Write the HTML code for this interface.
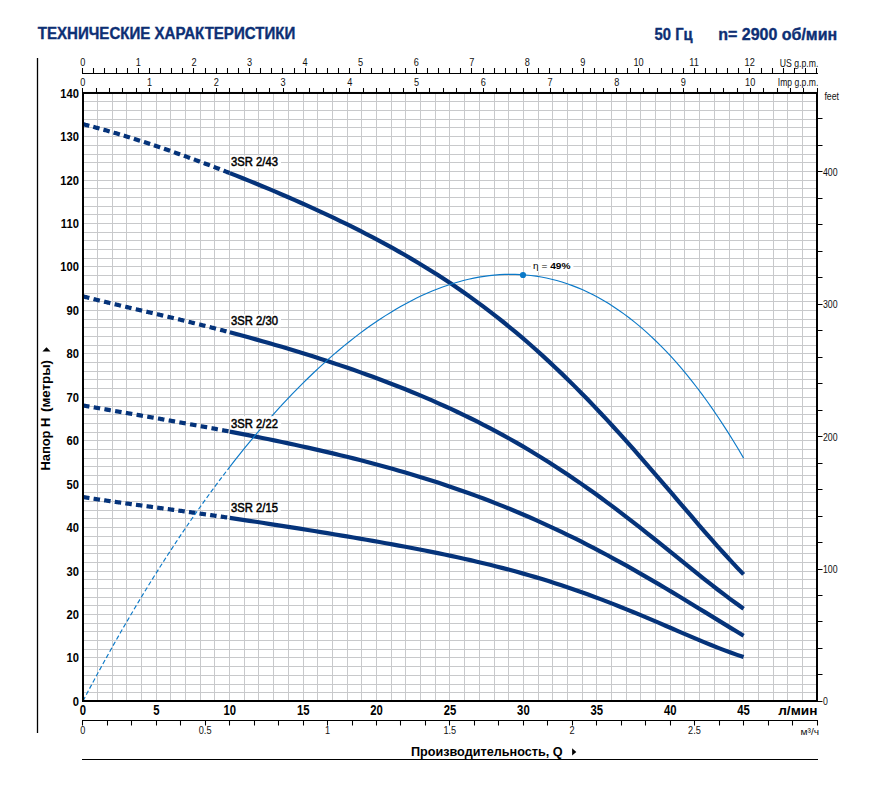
<!DOCTYPE html><html><head><meta charset="utf-8"><style>html,body{margin:0;padding:0;background:#fff;}svg{display:block;}text{font-family:"Liberation Sans",sans-serif;}</style></head><body>
<svg width="874" height="792" viewBox="0 0 874 792">
<rect width="874" height="792" fill="#fff"/>
<text x="37.8" y="38.5" font-size="15.6" font-weight="bold" fill="#0d2f74" stroke="#0d2f74" stroke-width="0.35" textLength="257.5" lengthAdjust="spacingAndGlyphs">ТЕХНИЧЕСКИЕ ХАРАКТЕРИСТИКИ</text>
<text x="654.6" y="39.6" font-size="15.6" font-weight="bold" fill="#0d2f74" stroke="#0d2f74" stroke-width="0.35" textLength="38" lengthAdjust="spacingAndGlyphs">50 Гц</text>
<text x="718.2" y="39.6" font-size="15.6" font-weight="bold" fill="#0d2f74" stroke="#0d2f74" stroke-width="0.35" textLength="119" lengthAdjust="spacingAndGlyphs">n= 2900 об/мин</text>
<line x1="37.5" y1="58" x2="37.5" y2="733" stroke="#000" stroke-width="1.3"/>
<path d="M97.5 92.98V701.0M112.5 92.98V701.0M126.5 92.98V701.0M141.5 92.98V701.0M156.5 92.98V701.0M170.5 92.98V701.0M185.5 92.98V701.0M200.5 92.98V701.0M214.5 92.98V701.0M229.5 92.98V701.0M244.5 92.98V701.0M258.5 92.98V701.0M273.5 92.98V701.0M288.5 92.98V701.0M303.5 92.98V701.0M317.5 92.98V701.0M332.5 92.98V701.0M347.5 92.98V701.0M361.5 92.98V701.0M376.5 92.98V701.0M391.5 92.98V701.0M405.5 92.98V701.0M420.5 92.98V701.0M435.5 92.98V701.0M449.5 92.98V701.0M464.5 92.98V701.0M479.5 92.98V701.0M494.5 92.98V701.0M508.5 92.98V701.0M523.5 92.98V701.0M538.5 92.98V701.0M552.5 92.98V701.0M567.5 92.98V701.0M582.5 92.98V701.0M596.5 92.98V701.0M611.5 92.98V701.0M626.5 92.98V701.0M640.5 92.98V701.0M655.5 92.98V701.0M670.5 92.98V701.0M684.5 92.98V701.0M699.5 92.98V701.0M714.5 92.98V701.0M729.5 92.98V701.0M743.5 92.98V701.0M758.5 92.98V701.0M773.5 92.98V701.0M787.5 92.98V701.0M802.5 92.98V701.0M83.0 692.5H817.00M83.0 684.5H817.00M83.0 675.5H817.00M83.0 666.5H817.00M83.0 657.5H817.00M83.0 649.5H817.00M83.0 640.5H817.00M83.0 631.5H817.00M83.0 623.5H817.00M83.0 614.5H817.00M83.0 605.5H817.00M83.0 597.5H817.00M83.0 588.5H817.00M83.0 579.5H817.00M83.0 571.5H817.00M83.0 562.5H817.00M83.0 553.5H817.00M83.0 545.5H817.00M83.0 536.5H817.00M83.0 527.5H817.00M83.0 518.5H817.00M83.0 510.5H817.00M83.0 501.5H817.00M83.0 492.5H817.00M83.0 484.5H817.00M83.0 475.5H817.00M83.0 466.5H817.00M83.0 458.5H817.00M83.0 449.5H817.00M83.0 440.5H817.00M83.0 432.5H817.00M83.0 423.5H817.00M83.0 414.5H817.00M83.0 406.5H817.00M83.0 397.5H817.00M83.0 388.5H817.00M83.0 379.5H817.00M83.0 371.5H817.00M83.0 362.5H817.00M83.0 353.5H817.00M83.0 345.5H817.00M83.0 336.5H817.00M83.0 327.5H817.00M83.0 319.5H817.00M83.0 310.5H817.00M83.0 301.5H817.00M83.0 293.5H817.00M83.0 284.5H817.00M83.0 275.5H817.00M83.0 266.5H817.00M83.0 258.5H817.00M83.0 249.5H817.00M83.0 240.5H817.00M83.0 232.5H817.00M83.0 223.5H817.00M83.0 214.5H817.00M83.0 206.5H817.00M83.0 197.5H817.00M83.0 188.5H817.00M83.0 180.5H817.00M83.0 171.5H817.00M83.0 162.5H817.00M83.0 154.5H817.00M83.0 145.5H817.00M83.0 136.5H817.00M83.0 127.5H817.00M83.0 119.5H817.00M83.0 110.5H817.00M83.0 101.5H817.00" stroke="#c8c9cb" stroke-width="1" fill="none"/>
<path d="M83.00 124.18 L83.74 124.37 L84.48 124.56 L85.21 124.74 L85.95 124.93 L86.69 125.12 L87.43 125.31 L88.16 125.51 L88.90 125.70 L89.64 125.89 L90.38 126.09 L91.11 126.28 L91.85 126.48 L92.59 126.67 L93.33 126.87 L94.07 127.07 L94.80 127.27 L95.54 127.47 L96.28 127.67 L97.02 127.87 L97.75 128.07 L98.49 128.27 L99.23 128.47 L99.97 128.68 L100.70 128.88 L101.44 129.09 L102.18 129.29 L102.92 129.50 L103.66 129.70 L104.39 129.91 L105.13 130.12 L105.87 130.33 L106.61 130.54 L107.34 130.75 L108.08 130.96 L108.82 131.17 L109.56 131.39 L110.29 131.60 L111.03 131.81 L111.77 132.03 L112.51 132.24 L113.25 132.46 L113.98 132.67 L114.72 132.89 L115.46 133.11 L116.20 133.33 L116.93 133.55 L117.67 133.77 L118.41 133.99 L119.15 134.21 L119.88 134.43 L120.62 134.65 L121.36 134.87 L122.10 135.10 L122.84 135.32 L123.57 135.55 L124.31 135.77 L125.05 136.00 L125.79 136.23 L126.52 136.45 L127.26 136.68 L128.00 136.91 L128.74 137.14 L129.47 137.37 L130.21 137.60 L130.95 137.83 L131.69 138.06 L132.43 138.29 L133.16 138.52 L133.90 138.76 L134.64 138.99 L135.38 139.22 L136.11 139.46 L136.85 139.69 L137.59 139.93 L138.33 140.17 L139.06 140.40 L139.80 140.64 L140.54 140.88 L141.28 141.12 L142.02 141.36 L142.75 141.60 L143.49 141.84 L144.23 142.08 L144.97 142.32 L145.70 142.56 L146.44 142.80 L147.18 143.05 L147.92 143.29 L148.65 143.53 L149.39 143.78 L150.13 144.02 L150.87 144.27 L151.61 144.51 L152.34 144.76 L153.08 145.01 L153.82 145.25 L154.56 145.50 L155.29 145.75 L156.03 146.00 L156.77 146.25 L157.51 146.50 L158.24 146.75 L158.98 147.00 L159.72 147.25 L160.46 147.50 L161.19 147.76 L161.93 148.01 L162.67 148.26 L163.41 148.52 L164.15 148.77 L164.88 149.03 L165.62 149.28 L166.36 149.54 L167.10 149.79 L167.83 150.05 L168.57 150.31 L169.31 150.56 L170.05 150.82 L170.78 151.08 L171.52 151.34 L172.26 151.60 L173.00 151.86 L173.74 152.12 L174.47 152.38 L175.21 152.64 L175.95 152.90 L176.69 153.16 L177.42 153.43 L178.16 153.69 L178.90 153.95 L179.64 154.22 L180.37 154.48 L181.11 154.75 L181.85 155.01 L182.59 155.28 L183.33 155.54 L184.06 155.81 L184.80 156.07 L185.54 156.34 L186.28 156.61 L187.01 156.88 L187.75 157.15 L188.49 157.41 L189.23 157.68 L189.96 157.95 L190.70 158.22 L191.44 158.49 L192.18 158.76 L192.92 159.03 L193.65 159.31 L194.39 159.58 L195.13 159.85 L195.87 160.12 L196.60 160.40 L197.34 160.67 L198.08 160.94 L198.82 161.22 L199.55 161.49 L200.29 161.77 L201.03 162.04 L201.77 162.32 L202.51 162.60 L203.24 162.87 L203.98 163.15 L204.72 163.43 L205.46 163.70 L206.19 163.98 L206.93 164.26 L207.67 164.54 L208.41 164.82 L209.14 165.10 L209.88 165.38 L210.62 165.66 L211.36 165.94 L212.10 166.22 L212.83 166.50 L213.57 166.78 L214.31 167.07 L215.05 167.35 L215.78 167.63 L216.52 167.92 L217.26 168.20 L218.00 168.48 L218.73 168.77 L219.47 169.05 L220.21 169.34 L220.95 169.62 L221.69 169.91 L222.42 170.20 L223.16 170.48 L223.90 170.77 L224.64 171.06 L225.37 171.34 L226.11 171.63 L226.85 171.92 L227.59 172.21 L228.32 172.50 L229.06 172.79 L229.80 173.08" stroke="#05337a" stroke-width="4.2" fill="none" stroke-dasharray="6.5 4.08"/>
<path d="M229.80 173.08 L236.30 175.65 L242.81 178.25 L249.31 180.88 L255.82 183.53 L262.32 186.22 L268.82 188.93 L275.33 191.67 L281.83 194.45 L288.33 197.26 L294.84 200.10 L301.34 202.97 L307.85 205.88 L314.35 208.83 L320.85 211.82 L327.36 214.85 L333.86 217.92 L340.36 221.04 L346.87 224.21 L353.37 227.43 L359.88 230.70 L366.38 234.02 L372.88 237.41 L379.39 240.85 L385.89 244.36 L392.39 247.94 L398.90 251.59 L405.40 255.30 L411.91 259.10 L418.41 262.97 L424.91 266.92 L431.42 270.96 L437.92 275.09 L444.43 279.31 L450.93 283.62 L457.43 288.02 L463.94 292.53 L470.44 297.13 L476.94 301.85 L483.45 306.66 L489.95 311.59 L496.46 316.63 L502.96 321.77 L509.46 327.04 L515.97 332.42 L522.47 337.91 L528.97 343.53 L535.48 349.26 L541.98 355.11 L548.49 361.08 L554.99 367.17 L561.49 373.37 L568.00 379.69 L574.50 386.13 L581.01 392.68 L587.51 399.34 L594.01 406.10 L600.52 412.97 L607.02 419.94 L613.52 427.00 L620.03 434.15 L626.53 441.39 L633.04 448.70 L639.54 456.08 L646.04 463.53 L652.55 471.02 L659.05 478.56 L665.55 486.13 L672.06 493.72 L678.56 501.32 L685.07 508.91 L691.57 516.49 L698.07 524.03 L704.58 531.52 L711.08 538.95 L717.58 546.29 L724.09 553.52 L730.59 560.63 L737.10 567.60 L743.60 574.39" stroke="#05337a" stroke-width="4.2" fill="none"/>
<path d="M83.00 296.38 L83.74 296.57 L84.48 296.76 L85.21 296.95 L85.95 297.13 L86.69 297.32 L87.43 297.51 L88.16 297.70 L88.90 297.88 L89.64 298.07 L90.38 298.25 L91.11 298.44 L91.85 298.62 L92.59 298.81 L93.33 298.99 L94.07 299.18 L94.80 299.36 L95.54 299.54 L96.28 299.72 L97.02 299.91 L97.75 300.09 L98.49 300.27 L99.23 300.45 L99.97 300.63 L100.70 300.81 L101.44 300.99 L102.18 301.17 L102.92 301.35 L103.66 301.53 L104.39 301.71 L105.13 301.89 L105.87 302.07 L106.61 302.25 L107.34 302.42 L108.08 302.60 L108.82 302.78 L109.56 302.96 L110.29 303.13 L111.03 303.31 L111.77 303.49 L112.51 303.66 L113.25 303.84 L113.98 304.02 L114.72 304.19 L115.46 304.37 L116.20 304.54 L116.93 304.72 L117.67 304.89 L118.41 305.07 L119.15 305.24 L119.88 305.42 L120.62 305.59 L121.36 305.77 L122.10 305.94 L122.84 306.12 L123.57 306.29 L124.31 306.47 L125.05 306.64 L125.79 306.81 L126.52 306.99 L127.26 307.16 L128.00 307.33 L128.74 307.51 L129.47 307.68 L130.21 307.86 L130.95 308.03 L131.69 308.20 L132.43 308.38 L133.16 308.55 L133.90 308.72 L134.64 308.90 L135.38 309.07 L136.11 309.24 L136.85 309.42 L137.59 309.59 L138.33 309.76 L139.06 309.94 L139.80 310.11 L140.54 310.28 L141.28 310.46 L142.02 310.63 L142.75 310.80 L143.49 310.98 L144.23 311.15 L144.97 311.32 L145.70 311.50 L146.44 311.67 L147.18 311.84 L147.92 312.02 L148.65 312.19 L149.39 312.37 L150.13 312.54 L150.87 312.71 L151.61 312.89 L152.34 313.06 L153.08 313.23 L153.82 313.41 L154.56 313.58 L155.29 313.76 L156.03 313.93 L156.77 314.11 L157.51 314.28 L158.24 314.46 L158.98 314.63 L159.72 314.81 L160.46 314.98 L161.19 315.16 L161.93 315.33 L162.67 315.51 L163.41 315.68 L164.15 315.86 L164.88 316.03 L165.62 316.21 L166.36 316.39 L167.10 316.56 L167.83 316.74 L168.57 316.92 L169.31 317.09 L170.05 317.27 L170.78 317.45 L171.52 317.62 L172.26 317.80 L173.00 317.98 L173.74 318.16 L174.47 318.33 L175.21 318.51 L175.95 318.69 L176.69 318.87 L177.42 319.05 L178.16 319.22 L178.90 319.40 L179.64 319.58 L180.37 319.76 L181.11 319.94 L181.85 320.12 L182.59 320.30 L183.33 320.48 L184.06 320.66 L184.80 320.84 L185.54 321.02 L186.28 321.20 L187.01 321.38 L187.75 321.56 L188.49 321.75 L189.23 321.93 L189.96 322.11 L190.70 322.29 L191.44 322.47 L192.18 322.66 L192.92 322.84 L193.65 323.02 L194.39 323.21 L195.13 323.39 L195.87 323.57 L196.60 323.76 L197.34 323.94 L198.08 324.12 L198.82 324.31 L199.55 324.49 L200.29 324.68 L201.03 324.86 L201.77 325.05 L202.51 325.23 L203.24 325.42 L203.98 325.61 L204.72 325.79 L205.46 325.98 L206.19 326.17 L206.93 326.35 L207.67 326.54 L208.41 326.73 L209.14 326.92 L209.88 327.11 L210.62 327.29 L211.36 327.48 L212.10 327.67 L212.83 327.86 L213.57 328.05 L214.31 328.24 L215.05 328.43 L215.78 328.62 L216.52 328.81 L217.26 329.00 L218.00 329.19 L218.73 329.38 L219.47 329.58 L220.21 329.77 L220.95 329.96 L221.69 330.15 L222.42 330.34 L223.16 330.54 L223.90 330.73 L224.64 330.92 L225.37 331.12 L226.11 331.31 L226.85 331.51 L227.59 331.70 L228.32 331.90 L229.06 332.09 L229.80 332.29" stroke="#05337a" stroke-width="4.2" fill="none" stroke-dasharray="6.5 4.36"/>
<path d="M229.80 332.29 L236.30 334.02 L242.81 335.78 L249.31 337.57 L255.82 339.37 L262.32 341.21 L268.82 343.07 L275.33 344.95 L281.83 346.86 L288.33 348.80 L294.84 350.76 L301.34 352.76 L307.85 354.78 L314.35 356.83 L320.85 358.92 L327.36 361.03 L333.86 363.18 L340.36 365.37 L346.87 367.58 L353.37 369.84 L359.88 372.13 L366.38 374.46 L372.88 376.82 L379.39 379.23 L385.89 381.69 L392.39 384.18 L398.90 386.73 L405.40 389.32 L411.91 391.96 L418.41 394.65 L424.91 397.39 L431.42 400.19 L437.92 403.05 L444.43 405.96 L450.93 408.94 L457.43 411.98 L463.94 415.08 L470.44 418.25 L476.94 421.48 L483.45 424.79 L489.95 428.17 L496.46 431.62 L502.96 435.14 L509.46 438.75 L515.97 442.42 L522.47 446.18 L528.97 450.02 L535.48 453.94 L541.98 457.94 L548.49 462.02 L554.99 466.18 L561.49 470.42 L568.00 474.74 L574.50 479.15 L581.01 483.63 L587.51 488.19 L594.01 492.83 L600.52 497.55 L607.02 502.33 L613.52 507.18 L620.03 512.10 L626.53 517.08 L633.04 522.12 L639.54 527.20 L646.04 532.34 L652.55 537.51 L659.05 542.72 L665.55 547.94 L672.06 553.19 L678.56 558.44 L685.07 563.69 L691.57 568.93 L698.07 574.13 L704.58 579.31 L711.08 584.42 L717.58 589.48 L724.09 594.45 L730.59 599.32 L737.10 604.07 L743.60 608.69" stroke="#05337a" stroke-width="4.2" fill="none"/>
<path d="M83.00 405.44 L83.74 405.57 L84.48 405.70 L85.21 405.83 L85.95 405.96 L86.69 406.08 L87.43 406.21 L88.16 406.34 L88.90 406.47 L89.64 406.60 L90.38 406.73 L91.11 406.86 L91.85 406.99 L92.59 407.12 L93.33 407.25 L94.07 407.37 L94.80 407.50 L95.54 407.63 L96.28 407.76 L97.02 407.89 L97.75 408.02 L98.49 408.15 L99.23 408.27 L99.97 408.40 L100.70 408.53 L101.44 408.66 L102.18 408.79 L102.92 408.92 L103.66 409.04 L104.39 409.17 L105.13 409.30 L105.87 409.43 L106.61 409.56 L107.34 409.68 L108.08 409.81 L108.82 409.94 L109.56 410.07 L110.29 410.20 L111.03 410.32 L111.77 410.45 L112.51 410.58 L113.25 410.71 L113.98 410.84 L114.72 410.96 L115.46 411.09 L116.20 411.22 L116.93 411.35 L117.67 411.47 L118.41 411.60 L119.15 411.73 L119.88 411.86 L120.62 411.99 L121.36 412.11 L122.10 412.24 L122.84 412.37 L123.57 412.50 L124.31 412.63 L125.05 412.75 L125.79 412.88 L126.52 413.01 L127.26 413.14 L128.00 413.27 L128.74 413.39 L129.47 413.52 L130.21 413.65 L130.95 413.78 L131.69 413.90 L132.43 414.03 L133.16 414.16 L133.90 414.29 L134.64 414.42 L135.38 414.55 L136.11 414.67 L136.85 414.80 L137.59 414.93 L138.33 415.06 L139.06 415.19 L139.80 415.31 L140.54 415.44 L141.28 415.57 L142.02 415.70 L142.75 415.83 L143.49 415.96 L144.23 416.09 L144.97 416.21 L145.70 416.34 L146.44 416.47 L147.18 416.60 L147.92 416.73 L148.65 416.86 L149.39 416.99 L150.13 417.12 L150.87 417.25 L151.61 417.37 L152.34 417.50 L153.08 417.63 L153.82 417.76 L154.56 417.89 L155.29 418.02 L156.03 418.15 L156.77 418.28 L157.51 418.41 L158.24 418.54 L158.98 418.67 L159.72 418.80 L160.46 418.93 L161.19 419.06 L161.93 419.19 L162.67 419.32 L163.41 419.45 L164.15 419.58 L164.88 419.71 L165.62 419.84 L166.36 419.97 L167.10 420.10 L167.83 420.23 L168.57 420.36 L169.31 420.49 L170.05 420.62 L170.78 420.75 L171.52 420.88 L172.26 421.01 L173.00 421.15 L173.74 421.28 L174.47 421.41 L175.21 421.54 L175.95 421.67 L176.69 421.80 L177.42 421.93 L178.16 422.07 L178.90 422.20 L179.64 422.33 L180.37 422.46 L181.11 422.59 L181.85 422.73 L182.59 422.86 L183.33 422.99 L184.06 423.12 L184.80 423.26 L185.54 423.39 L186.28 423.52 L187.01 423.65 L187.75 423.79 L188.49 423.92 L189.23 424.05 L189.96 424.19 L190.70 424.32 L191.44 424.45 L192.18 424.59 L192.92 424.72 L193.65 424.86 L194.39 424.99 L195.13 425.12 L195.87 425.26 L196.60 425.39 L197.34 425.53 L198.08 425.66 L198.82 425.80 L199.55 425.93 L200.29 426.07 L201.03 426.20 L201.77 426.34 L202.51 426.47 L203.24 426.61 L203.98 426.74 L204.72 426.88 L205.46 427.01 L206.19 427.15 L206.93 427.29 L207.67 427.42 L208.41 427.56 L209.14 427.70 L209.88 427.83 L210.62 427.97 L211.36 428.11 L212.10 428.24 L212.83 428.38 L213.57 428.52 L214.31 428.66 L215.05 428.79 L215.78 428.93 L216.52 429.07 L217.26 429.21 L218.00 429.35 L218.73 429.48 L219.47 429.62 L220.21 429.76 L220.95 429.90 L221.69 430.04 L222.42 430.18 L223.16 430.32 L223.90 430.46 L224.64 430.60 L225.37 430.74 L226.11 430.88 L226.85 431.02 L227.59 431.16 L228.32 431.30 L229.06 431.44 L229.80 431.58" stroke="#05337a" stroke-width="4.2" fill="none" stroke-dasharray="6.5 4.37"/>
<path d="M229.80 431.58 L236.30 432.83 L242.81 434.09 L249.31 435.36 L255.82 436.66 L262.32 437.96 L268.82 439.29 L275.33 440.63 L281.83 441.99 L288.33 443.36 L294.84 444.76 L301.34 446.18 L307.85 447.62 L314.35 449.09 L320.85 450.58 L327.36 452.09 L333.86 453.62 L340.36 455.19 L346.87 456.78 L353.37 458.40 L359.88 460.05 L366.38 461.74 L372.88 463.45 L379.39 465.20 L385.89 466.98 L392.39 468.79 L398.90 470.65 L405.40 472.54 L411.91 474.47 L418.41 476.44 L424.91 478.45 L431.42 480.50 L437.92 482.60 L444.43 484.74 L450.93 486.92 L457.43 489.16 L463.94 491.44 L470.44 493.77 L476.94 496.15 L483.45 498.57 L489.95 501.05 L496.46 503.59 L502.96 506.17 L509.46 508.81 L515.97 511.50 L522.47 514.25 L528.97 517.05 L535.48 519.91 L541.98 522.83 L548.49 525.80 L554.99 528.82 L561.49 531.91 L568.00 535.04 L574.50 538.24 L581.01 541.49 L587.51 544.79 L594.01 548.15 L600.52 551.56 L607.02 555.02 L613.52 558.54 L620.03 562.10 L626.53 565.71 L633.04 569.37 L639.54 573.07 L646.04 576.82 L652.55 580.60 L659.05 584.42 L665.55 588.27 L672.06 592.16 L678.56 596.07 L685.07 600.01 L691.57 603.96 L698.07 607.93 L704.58 611.91 L711.08 615.90 L717.58 619.89 L724.09 623.87 L730.59 627.84 L737.10 631.79 L743.60 635.72" stroke="#05337a" stroke-width="4.2" fill="none"/>
<path d="M83.00 497.07 L83.74 497.18 L84.48 497.30 L85.21 497.42 L85.95 497.54 L86.69 497.65 L87.43 497.77 L88.16 497.88 L88.90 498.00 L89.64 498.11 L90.38 498.23 L91.11 498.34 L91.85 498.45 L92.59 498.57 L93.33 498.68 L94.07 498.79 L94.80 498.90 L95.54 499.02 L96.28 499.13 L97.02 499.24 L97.75 499.35 L98.49 499.46 L99.23 499.57 L99.97 499.68 L100.70 499.79 L101.44 499.90 L102.18 500.00 L102.92 500.11 L103.66 500.22 L104.39 500.33 L105.13 500.43 L105.87 500.54 L106.61 500.65 L107.34 500.76 L108.08 500.86 L108.82 500.97 L109.56 501.07 L110.29 501.18 L111.03 501.28 L111.77 501.39 L112.51 501.49 L113.25 501.60 L113.98 501.70 L114.72 501.81 L115.46 501.91 L116.20 502.02 L116.93 502.12 L117.67 502.22 L118.41 502.33 L119.15 502.43 L119.88 502.53 L120.62 502.64 L121.36 502.74 L122.10 502.84 L122.84 502.94 L123.57 503.05 L124.31 503.15 L125.05 503.25 L125.79 503.35 L126.52 503.46 L127.26 503.56 L128.00 503.66 L128.74 503.76 L129.47 503.86 L130.21 503.96 L130.95 504.06 L131.69 504.17 L132.43 504.27 L133.16 504.37 L133.90 504.47 L134.64 504.57 L135.38 504.67 L136.11 504.77 L136.85 504.87 L137.59 504.97 L138.33 505.07 L139.06 505.17 L139.80 505.27 L140.54 505.37 L141.28 505.48 L142.02 505.58 L142.75 505.68 L143.49 505.78 L144.23 505.88 L144.97 505.98 L145.70 506.08 L146.44 506.18 L147.18 506.28 L147.92 506.38 L148.65 506.48 L149.39 506.58 L150.13 506.68 L150.87 506.78 L151.61 506.88 L152.34 506.98 L153.08 507.08 L153.82 507.18 L154.56 507.28 L155.29 507.38 L156.03 507.48 L156.77 507.58 L157.51 507.68 L158.24 507.78 L158.98 507.88 L159.72 507.98 L160.46 508.08 L161.19 508.19 L161.93 508.29 L162.67 508.39 L163.41 508.49 L164.15 508.59 L164.88 508.69 L165.62 508.79 L166.36 508.89 L167.10 508.99 L167.83 509.09 L168.57 509.19 L169.31 509.29 L170.05 509.40 L170.78 509.50 L171.52 509.60 L172.26 509.70 L173.00 509.80 L173.74 509.90 L174.47 510.00 L175.21 510.11 L175.95 510.21 L176.69 510.31 L177.42 510.41 L178.16 510.51 L178.90 510.62 L179.64 510.72 L180.37 510.82 L181.11 510.92 L181.85 511.02 L182.59 511.13 L183.33 511.23 L184.06 511.33 L184.80 511.43 L185.54 511.54 L186.28 511.64 L187.01 511.74 L187.75 511.85 L188.49 511.95 L189.23 512.05 L189.96 512.16 L190.70 512.26 L191.44 512.36 L192.18 512.47 L192.92 512.57 L193.65 512.67 L194.39 512.78 L195.13 512.88 L195.87 512.99 L196.60 513.09 L197.34 513.19 L198.08 513.30 L198.82 513.40 L199.55 513.51 L200.29 513.61 L201.03 513.72 L201.77 513.82 L202.51 513.93 L203.24 514.03 L203.98 514.14 L204.72 514.24 L205.46 514.35 L206.19 514.45 L206.93 514.56 L207.67 514.66 L208.41 514.77 L209.14 514.88 L209.88 514.98 L210.62 515.09 L211.36 515.19 L212.10 515.30 L212.83 515.41 L213.57 515.51 L214.31 515.62 L215.05 515.73 L215.78 515.83 L216.52 515.94 L217.26 516.05 L218.00 516.16 L218.73 516.26 L219.47 516.37 L220.21 516.48 L220.95 516.59 L221.69 516.69 L222.42 516.80 L223.16 516.91 L223.90 517.02 L224.64 517.13 L225.37 517.23 L226.11 517.34 L226.85 517.45 L227.59 517.56 L228.32 517.67 L229.06 517.78 L229.80 517.89" stroke="#05337a" stroke-width="4.2" fill="none" stroke-dasharray="6.5 4.2"/>
<path d="M229.80 517.89 L236.30 518.85 L242.81 519.82 L249.31 520.80 L255.82 521.79 L262.32 522.79 L268.82 523.80 L275.33 524.81 L281.83 525.83 L288.33 526.85 L294.84 527.88 L301.34 528.92 L307.85 529.97 L314.35 531.03 L320.85 532.09 L327.36 533.16 L333.86 534.23 L340.36 535.32 L346.87 536.41 L353.37 537.52 L359.88 538.63 L366.38 539.75 L372.88 540.89 L379.39 542.04 L385.89 543.20 L392.39 544.38 L398.90 545.57 L405.40 546.78 L411.91 548.01 L418.41 549.26 L424.91 550.53 L431.42 551.82 L437.92 553.14 L444.43 554.48 L450.93 555.86 L457.43 557.26 L463.94 558.70 L470.44 560.17 L476.94 561.68 L483.45 563.22 L489.95 564.80 L496.46 566.43 L502.96 568.10 L509.46 569.81 L515.97 571.57 L522.47 573.37 L528.97 575.23 L535.48 577.14 L541.98 579.09 L548.49 581.10 L554.99 583.17 L561.49 585.28 L568.00 587.45 L574.50 589.68 L581.01 591.96 L587.51 594.29 L594.01 596.67 L600.52 599.11 L607.02 601.59 L613.52 604.13 L620.03 606.70 L626.53 609.33 L633.04 611.99 L639.54 614.68 L646.04 617.41 L652.55 620.16 L659.05 622.94 L665.55 625.73 L672.06 628.53 L678.56 631.33 L685.07 634.12 L691.57 636.89 L698.07 639.64 L704.58 642.34 L711.08 645.00 L717.58 647.60 L724.09 650.13 L730.59 652.56 L737.10 654.89 L743.60 657.10" stroke="#05337a" stroke-width="4.2" fill="none"/>
<path d="M83.00 701.00 L90.73 686.39 L98.45 672.05 L106.18 657.97 L113.91 644.14 L121.63 630.58 L129.36 617.27 L137.08 604.21 L144.81 591.41 L152.54 578.86 L160.26 566.55 L167.99 554.49 L175.72 542.68 L183.44 531.11 L191.17 519.79 L198.89 508.71 L206.62 497.87 L214.35 487.28 L222.07 476.92 L229.80 466.81" stroke="#0b79c8" stroke-width="1.15" fill="none" stroke-dasharray="4.5 2.5"/>
<path d="M229.80 466.81 L234.99 460.15 L240.18 453.61 L245.37 447.17 L250.56 440.84 L255.75 434.62 L260.94 428.51 L266.13 422.51 L271.32 416.62 L276.51 410.84 L281.70 405.17 L286.89 399.61 L292.08 394.16 L297.27 388.83 L302.46 383.60 L307.65 378.49 L312.84 373.49 L318.03 368.60 L323.22 363.83 L328.41 359.17 L333.60 354.62 L338.79 350.19 L343.98 345.88 L349.17 341.68 L354.36 337.60 L359.55 333.64 L364.74 329.80 L369.93 326.07 L375.12 322.47 L380.31 318.99 L385.50 315.63 L390.69 312.39 L395.88 309.28 L401.07 306.29 L406.26 303.42 L411.45 300.69 L416.64 298.08 L421.83 295.60 L427.02 293.25 L432.21 291.03 L437.40 288.95 L442.59 286.99 L447.78 285.17 L452.97 283.49 L458.16 281.95 L463.35 280.54 L468.54 279.27 L473.73 278.15 L478.92 277.16 L484.11 276.32 L489.29 275.63 L494.48 275.08 L499.67 274.68 L504.86 274.43 L510.05 274.34 L515.24 274.39 L520.43 274.60 L525.62 274.97 L530.81 275.50 L536.00 276.18 L541.19 277.03 L546.38 278.04 L551.57 279.21 L556.76 280.56 L561.95 282.07 L567.14 283.75 L572.33 285.61 L577.52 287.64 L582.71 289.84 L587.90 292.23 L593.09 294.79 L598.28 297.54 L603.47 300.48 L608.66 303.60 L613.85 306.91 L619.04 310.41 L624.23 314.11 L629.42 318.00 L634.61 322.09 L639.80 326.38 L644.99 330.87 L650.18 335.57 L655.37 340.48 L660.56 345.59 L665.75 350.92 L670.94 356.47 L676.13 362.23 L681.32 368.21 L686.51 374.41 L691.70 380.84 L696.89 387.50 L702.08 394.39 L707.27 401.51 L712.46 408.87 L717.65 416.47 L722.84 424.31 L728.03 432.39 L733.22 440.72 L738.41 449.30 L743.60 458.14" stroke="#0b79c8" stroke-width="1.15" fill="none"/>
<circle cx="523" cy="275" r="3.1" fill="#0b79c8"/>
<rect x="230.3" y="155.6" width="50.7" height="12.4" fill="#fff"/>
<rect x="230.3" y="314.3" width="50.7" height="12.9" fill="#fff"/>
<rect x="230.3" y="416.2" width="50.9" height="13.0" fill="#fff"/>
<rect x="229.9" y="502" width="50.8" height="10.6" fill="#fff"/>
<rect x="530.8" y="259.5" width="42.6" height="12" fill="#fff"/>
<text x="231" y="166.1" font-size="13.7" fill="#000" stroke="#000" stroke-width="0.55" textLength="46.9" lengthAdjust="spacingAndGlyphs">3SR 2/43</text>
<text x="231" y="325.1" font-size="13.7" fill="#000" stroke="#000" stroke-width="0.55" textLength="46.9" lengthAdjust="spacingAndGlyphs">3SR 2/30</text>
<text x="231" y="428.1" font-size="13.7" fill="#000" stroke="#000" stroke-width="0.55" textLength="46.9" lengthAdjust="spacingAndGlyphs">3SR 2/22</text>
<text x="231" y="511.8" font-size="13.7" fill="#000" stroke="#000" stroke-width="0.55" textLength="46.9" lengthAdjust="spacingAndGlyphs">3SR 2/15</text>
<text x="533" y="268.5" font-size="9.8" fill="#000" textLength="37.5" lengthAdjust="spacingAndGlyphs">η = <tspan font-weight="bold">49%</tspan></text>
<rect x="83.0" y="92.98" width="734.00" height="608.02" fill="none" stroke="#000" stroke-width="2"/>
<path d="M82 73.5H818M82.5 68V73.5M93.5 68V73.5M104.5 68V73.5M116.5 68V73.5M127.5 68V73.5M138.5 68V73.5M149.5 68V73.5M160.5 68V73.5M171.5 68V73.5M182.5 68V73.5M193.5 68V73.5M205.5 68V73.5M216.5 68V73.5M227.5 68V73.5M238.5 68V73.5M249.5 68V73.5M260.5 68V73.5M271.5 68V73.5M282.5 68V73.5M294.5 68V73.5M305.5 68V73.5M316.5 68V73.5M327.5 68V73.5M338.5 68V73.5M349.5 68V73.5M360.5 68V73.5M371.5 68V73.5M382.5 68V73.5M394.5 68V73.5M405.5 68V73.5M416.5 68V73.5M427.5 68V73.5M438.5 68V73.5M449.5 68V73.5M460.5 68V73.5M471.5 68V73.5M483.5 68V73.5M494.5 68V73.5M505.5 68V73.5M516.5 68V73.5M527.5 68V73.5M538.5 68V73.5M549.5 68V73.5M560.5 68V73.5M572.5 68V73.5M583.5 68V73.5M594.5 68V73.5M605.5 68V73.5M616.5 68V73.5M627.5 68V73.5M638.5 68V73.5M649.5 68V73.5M661.5 68V73.5M672.5 68V73.5M683.5 68V73.5M694.5 68V73.5M705.5 68V73.5M716.5 68V73.5M727.5 68V73.5M738.5 68V73.5M749.5 68V73.5M761.5 68V73.5M772.5 68V73.5M783.5 68V73.5M794.5 68V73.5M805.5 68V73.5M816.5 68V73.5" stroke="#000" stroke-width="1.05" fill="none"/>
<text x="82.80" y="65.6" text-anchor="middle" font-size="10.2" fill="#111" transform="translate(82.80 0) scale(0.9 1) translate(-82.80 0)">0</text>
<text x="138.37" y="65.6" text-anchor="middle" font-size="10.2" fill="#111" transform="translate(138.37 0) scale(0.9 1) translate(-138.37 0)">1</text>
<text x="193.94" y="65.6" text-anchor="middle" font-size="10.2" fill="#111" transform="translate(193.94 0) scale(0.9 1) translate(-193.94 0)">2</text>
<text x="249.51" y="65.6" text-anchor="middle" font-size="10.2" fill="#111" transform="translate(249.51 0) scale(0.9 1) translate(-249.51 0)">3</text>
<text x="305.08" y="65.6" text-anchor="middle" font-size="10.2" fill="#111" transform="translate(305.08 0) scale(0.9 1) translate(-305.08 0)">4</text>
<text x="360.65" y="65.6" text-anchor="middle" font-size="10.2" fill="#111" transform="translate(360.65 0) scale(0.9 1) translate(-360.65 0)">5</text>
<text x="416.22" y="65.6" text-anchor="middle" font-size="10.2" fill="#111" transform="translate(416.22 0) scale(0.9 1) translate(-416.22 0)">6</text>
<text x="471.79" y="65.6" text-anchor="middle" font-size="10.2" fill="#111" transform="translate(471.79 0) scale(0.9 1) translate(-471.79 0)">7</text>
<text x="527.36" y="65.6" text-anchor="middle" font-size="10.2" fill="#111" transform="translate(527.36 0) scale(0.9 1) translate(-527.36 0)">8</text>
<text x="582.93" y="65.6" text-anchor="middle" font-size="10.2" fill="#111" transform="translate(582.93 0) scale(0.9 1) translate(-582.93 0)">9</text>
<text x="638.50" y="65.6" text-anchor="middle" font-size="10.2" fill="#111" transform="translate(638.50 0) scale(0.9 1) translate(-638.50 0)">10</text>
<text x="694.07" y="65.6" text-anchor="middle" font-size="10.2" fill="#111" transform="translate(694.07 0) scale(0.9 1) translate(-694.07 0)">11</text>
<text x="749.64" y="65.6" text-anchor="middle" font-size="10.2" fill="#111" transform="translate(749.64 0) scale(0.9 1) translate(-749.64 0)">12</text>
<text x="818.3" y="66.7" font-size="10" text-anchor="end" fill="#111" textLength="38.5" lengthAdjust="spacingAndGlyphs">US g.p.m.</text>
<path d="M82.5 88V93M96.5 88V93M109.5 88V93M122.5 88V93M136.5 88V93M149.5 88V93M162.5 88V93M176.5 88V93M189.5 88V93M202.5 88V93M216.5 88V93M229.5 88V93M242.5 88V93M256.5 88V93M269.5 88V93M283.5 88V93M296.5 88V93M309.5 88V93M323.5 88V93M336.5 88V93M349.5 88V93M363.5 88V93M376.5 88V93M389.5 88V93M403.5 88V93M416.5 88V93M429.5 88V93M443.5 88V93M456.5 88V93M470.5 88V93M483.5 88V93M496.5 88V93M510.5 88V93M523.5 88V93M536.5 88V93M550.5 88V93M563.5 88V93M576.5 88V93M590.5 88V93M603.5 88V93M616.5 88V93M630.5 88V93M643.5 88V93M657.5 88V93M670.5 88V93M683.5 88V93M697.5 88V93M710.5 88V93M723.5 88V93M737.5 88V93M750.5 88V93M763.5 88V93M777.5 88V93M790.5 88V93M803.5 88V93M817.5 88V93" stroke="#000" stroke-width="1.05" fill="none"/>
<text x="82.80" y="85.6" text-anchor="middle" font-size="10.2" fill="#111" transform="translate(82.80 0) scale(0.9 1) translate(-82.80 0)">0</text>
<text x="149.54" y="85.6" text-anchor="middle" font-size="10.2" fill="#111" transform="translate(149.54 0) scale(0.9 1) translate(-149.54 0)">1</text>
<text x="216.27" y="85.6" text-anchor="middle" font-size="10.2" fill="#111" transform="translate(216.27 0) scale(0.9 1) translate(-216.27 0)">2</text>
<text x="283.01" y="85.6" text-anchor="middle" font-size="10.2" fill="#111" transform="translate(283.01 0) scale(0.9 1) translate(-283.01 0)">3</text>
<text x="349.75" y="85.6" text-anchor="middle" font-size="10.2" fill="#111" transform="translate(349.75 0) scale(0.9 1) translate(-349.75 0)">4</text>
<text x="416.48" y="85.6" text-anchor="middle" font-size="10.2" fill="#111" transform="translate(416.48 0) scale(0.9 1) translate(-416.48 0)">5</text>
<text x="483.22" y="85.6" text-anchor="middle" font-size="10.2" fill="#111" transform="translate(483.22 0) scale(0.9 1) translate(-483.22 0)">6</text>
<text x="549.96" y="85.6" text-anchor="middle" font-size="10.2" fill="#111" transform="translate(549.96 0) scale(0.9 1) translate(-549.96 0)">7</text>
<text x="616.69" y="85.6" text-anchor="middle" font-size="10.2" fill="#111" transform="translate(616.69 0) scale(0.9 1) translate(-616.69 0)">8</text>
<text x="683.43" y="85.6" text-anchor="middle" font-size="10.2" fill="#111" transform="translate(683.43 0) scale(0.9 1) translate(-683.43 0)">9</text>
<text x="750.17" y="85.6" text-anchor="middle" font-size="10.2" fill="#111" transform="translate(750.17 0) scale(0.9 1) translate(-750.17 0)">10</text>
<text x="818.3" y="86" font-size="10" text-anchor="end" fill="#111" textLength="40.5" lengthAdjust="spacingAndGlyphs">Imp g.p.m.</text>
<path d="M817 701.5H822.5M817 674.5H822.5M817 648.5H822.5M817 621.5H822.5M817 595.5H822.5M817 569.5H822.5M817 542.5H822.5M817 516.5H822.5M817 489.5H822.5M817 463.5H822.5M817 436.5H822.5M817 410.5H822.5M817 383.5H822.5M817 357.5H822.5M817 330.5H822.5M817 304.5H822.5M817 277.5H822.5M817 251.5H822.5M817 224.5H822.5M817 198.5H822.5M817 171.5H822.5M817 145.5H822.5M817 118.5H822.5" stroke="#000" stroke-width="1.05" fill="none"/>
<text x="823.00" y="705.30" font-size="10.2" fill="#111" transform="translate(823.00 0) scale(0.86 1) translate(-823.00 0)">0</text>
<text x="823.00" y="572.93" font-size="10.2" fill="#111" transform="translate(823.00 0) scale(0.86 1) translate(-823.00 0)">100</text>
<text x="823.00" y="440.55" font-size="10.2" fill="#111" transform="translate(823.00 0) scale(0.86 1) translate(-823.00 0)">200</text>
<text x="823.00" y="308.18" font-size="10.2" fill="#111" transform="translate(823.00 0) scale(0.86 1) translate(-823.00 0)">300</text>
<text x="823.00" y="175.80" font-size="10.2" fill="#111" transform="translate(823.00 0) scale(0.86 1) translate(-823.00 0)">400</text>
<text x="824.4" y="100" font-size="10" fill="#111" textLength="14.6" lengthAdjust="spacingAndGlyphs">feet</text>
<text x="78.90" y="705.80" font-size="13" font-weight="bold" text-anchor="end" fill="#000" transform="translate(78.90 0) scale(0.86 1) translate(-78.90 0)">0</text>
<text x="78.90" y="662.37" font-size="13" font-weight="bold" text-anchor="end" fill="#000" transform="translate(78.90 0) scale(0.86 1) translate(-78.90 0)">10</text>
<text x="78.90" y="618.94" font-size="13" font-weight="bold" text-anchor="end" fill="#000" transform="translate(78.90 0) scale(0.86 1) translate(-78.90 0)">20</text>
<text x="78.90" y="575.51" font-size="13" font-weight="bold" text-anchor="end" fill="#000" transform="translate(78.90 0) scale(0.86 1) translate(-78.90 0)">30</text>
<text x="78.90" y="532.08" font-size="13" font-weight="bold" text-anchor="end" fill="#000" transform="translate(78.90 0) scale(0.86 1) translate(-78.90 0)">40</text>
<text x="78.90" y="488.65" font-size="13" font-weight="bold" text-anchor="end" fill="#000" transform="translate(78.90 0) scale(0.86 1) translate(-78.90 0)">50</text>
<text x="78.90" y="445.22" font-size="13" font-weight="bold" text-anchor="end" fill="#000" transform="translate(78.90 0) scale(0.86 1) translate(-78.90 0)">60</text>
<text x="78.90" y="401.79" font-size="13" font-weight="bold" text-anchor="end" fill="#000" transform="translate(78.90 0) scale(0.86 1) translate(-78.90 0)">70</text>
<text x="78.90" y="358.36" font-size="13" font-weight="bold" text-anchor="end" fill="#000" transform="translate(78.90 0) scale(0.86 1) translate(-78.90 0)">80</text>
<text x="78.90" y="314.93" font-size="13" font-weight="bold" text-anchor="end" fill="#000" transform="translate(78.90 0) scale(0.86 1) translate(-78.90 0)">90</text>
<text x="78.90" y="271.50" font-size="13" font-weight="bold" text-anchor="end" fill="#000" transform="translate(78.90 0) scale(0.86 1) translate(-78.90 0)">100</text>
<text x="78.90" y="228.07" font-size="13" font-weight="bold" text-anchor="end" fill="#000" transform="translate(78.90 0) scale(0.86 1) translate(-78.90 0)">110</text>
<text x="78.90" y="184.64" font-size="13" font-weight="bold" text-anchor="end" fill="#000" transform="translate(78.90 0) scale(0.86 1) translate(-78.90 0)">120</text>
<text x="78.90" y="141.21" font-size="13" font-weight="bold" text-anchor="end" fill="#000" transform="translate(78.90 0) scale(0.86 1) translate(-78.90 0)">130</text>
<text x="78.90" y="97.78" font-size="13" font-weight="bold" text-anchor="end" fill="#000" transform="translate(78.90 0) scale(0.86 1) translate(-78.90 0)">140</text>
<text x="83.00" y="715.1" font-size="13.8" font-weight="bold" text-anchor="middle" fill="#000" transform="translate(83.00 0) scale(0.82 1) translate(-83.00 0)">0</text>
<text x="156.40" y="715.1" font-size="13.8" font-weight="bold" text-anchor="middle" fill="#000" transform="translate(156.40 0) scale(0.82 1) translate(-156.40 0)">5</text>
<text x="229.80" y="715.1" font-size="13.8" font-weight="bold" text-anchor="middle" fill="#000" transform="translate(229.80 0) scale(0.82 1) translate(-229.80 0)">10</text>
<text x="303.20" y="715.1" font-size="13.8" font-weight="bold" text-anchor="middle" fill="#000" transform="translate(303.20 0) scale(0.82 1) translate(-303.20 0)">15</text>
<text x="376.60" y="715.1" font-size="13.8" font-weight="bold" text-anchor="middle" fill="#000" transform="translate(376.60 0) scale(0.82 1) translate(-376.60 0)">20</text>
<text x="450.00" y="715.1" font-size="13.8" font-weight="bold" text-anchor="middle" fill="#000" transform="translate(450.00 0) scale(0.82 1) translate(-450.00 0)">25</text>
<text x="523.40" y="715.1" font-size="13.8" font-weight="bold" text-anchor="middle" fill="#000" transform="translate(523.40 0) scale(0.82 1) translate(-523.40 0)">30</text>
<text x="596.80" y="715.1" font-size="13.8" font-weight="bold" text-anchor="middle" fill="#000" transform="translate(596.80 0) scale(0.82 1) translate(-596.80 0)">35</text>
<text x="670.20" y="715.1" font-size="13.8" font-weight="bold" text-anchor="middle" fill="#000" transform="translate(670.20 0) scale(0.82 1) translate(-670.20 0)">40</text>
<text x="743.60" y="715.1" font-size="13.8" font-weight="bold" text-anchor="middle" fill="#000" transform="translate(743.60 0) scale(0.82 1) translate(-743.60 0)">45</text>
<text x="817.4" y="715.1" font-size="13.5" font-weight="bold" text-anchor="end" fill="#000" textLength="39.2" lengthAdjust="spacingAndGlyphs">л/мин</text>
<path d="M82 720.5H818M82.5 720.5V725.5M107.5 720.5V725.5M131.5 720.5V725.5M156.5 720.5V725.5M180.5 720.5V725.5M205.5 720.5V725.5M229.5 720.5V725.5M254.5 720.5V725.5M278.5 720.5V725.5M303.5 720.5V725.5M327.5 720.5V725.5M352.5 720.5V725.5M376.5 720.5V725.5M400.5 720.5V725.5M425.5 720.5V725.5M449.5 720.5V725.5M474.5 720.5V725.5M498.5 720.5V725.5M523.5 720.5V725.5M547.5 720.5V725.5M572.5 720.5V725.5M596.5 720.5V725.5M621.5 720.5V725.5M645.5 720.5V725.5M670.5 720.5V725.5M694.5 720.5V725.5M719.5 720.5V725.5M743.5 720.5V725.5M768.5 720.5V725.5M792.5 720.5V725.5M817.5 720.5V725.5" stroke="#000" stroke-width="1.05" fill="none"/>
<text x="82.80" y="733.8" text-anchor="middle" font-size="10.2" fill="#111" transform="translate(82.80 0) scale(0.9 1) translate(-82.80 0)">0</text>
<text x="205.13" y="733.8" text-anchor="middle" font-size="10.2" fill="#111" transform="translate(205.13 0) scale(0.9 1) translate(-205.13 0)">0.5</text>
<text x="327.47" y="733.8" text-anchor="middle" font-size="10.2" fill="#111" transform="translate(327.47 0) scale(0.9 1) translate(-327.47 0)">1</text>
<text x="449.80" y="733.8" text-anchor="middle" font-size="10.2" fill="#111" transform="translate(449.80 0) scale(0.9 1) translate(-449.80 0)">1.5</text>
<text x="572.13" y="733.8" text-anchor="middle" font-size="10.2" fill="#111" transform="translate(572.13 0) scale(0.9 1) translate(-572.13 0)">2</text>
<text x="694.47" y="733.8" text-anchor="middle" font-size="10.2" fill="#111" transform="translate(694.47 0) scale(0.9 1) translate(-694.47 0)">2.5</text>
<text x="819.1" y="734.8" font-size="9.9" text-anchor="end" fill="#111" textLength="18.5" lengthAdjust="spacingAndGlyphs">м³/ч</text>
<text x="410.9" y="755.8" font-size="12.4" font-weight="bold" fill="#000" textLength="151.7" lengthAdjust="spacingAndGlyphs">Производительность, Q</text>
<path d="M572.1 748.3L576.3 751.9L572.1 755.5Z" fill="#000"/>
<line x1="82" y1="759.5" x2="818" y2="759.5" stroke="#000" stroke-width="1.1"/>
<g transform="translate(50 470.6) rotate(-90)"><text x="0" y="0" font-size="12" font-weight="bold" fill="#000" textLength="53" lengthAdjust="spacingAndGlyphs">Напор H</text><text x="58.6" y="0" font-size="12" font-weight="bold" fill="#000" textLength="52" lengthAdjust="spacingAndGlyphs">(метры)</text><path d="M119.0 -7.6L123.3 -3.5L119.0 0.6Z" fill="#000"/></g>
</svg></body></html>
